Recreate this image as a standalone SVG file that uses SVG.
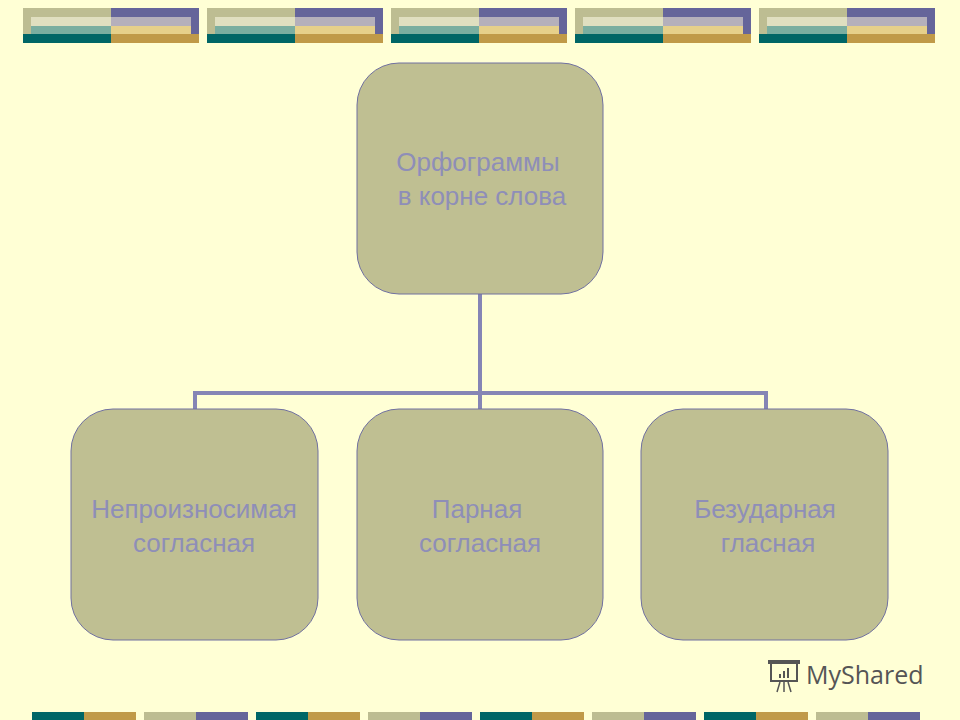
<svg xmlns="http://www.w3.org/2000/svg" width="960" height="720" viewBox="0 0 960 720">
<style>
.n{fill:#bfbf92;stroke:#7070a0;stroke-width:1}
.t{font-family:"Liberation Sans",Arial,sans-serif;font-size:26px;fill:#8e8eb8;text-anchor:middle}
.c{stroke:#8585b5;stroke-width:4;fill:none}
</style>
<defs>
<g id="ban">
<rect x="0" y="0" width="88" height="9" fill="#bdbd92"/>
<rect x="88" y="0" width="88" height="9" fill="#65659a"/>
<rect x="0" y="9" width="8" height="17" fill="#bdbd92"/>
<rect x="168" y="9" width="8" height="17" fill="#65659a"/>
<rect x="0" y="26" width="88" height="9" fill="#006666"/>
<rect x="88" y="26" width="88" height="9" fill="#c09a48"/>
<rect x="8" y="9" width="80" height="9" fill="#e0dfc0"/>
<rect x="88" y="9" width="80" height="9" fill="#b5b0bb"/>
<rect x="8" y="18" width="80" height="8" fill="#7aaea0"/>
<rect x="88" y="18" width="80" height="8" fill="#e6d08a"/>
</g>
</defs>
<rect width="960" height="720" fill="#ffffd5"/>
<use href="#ban" x="23" y="8"/>
<use href="#ban" x="207" y="8"/>
<use href="#ban" x="391" y="8"/>
<use href="#ban" x="575" y="8"/>
<use href="#ban" x="759" y="8"/>
<g>
<rect x="32" y="712" width="52" height="8" fill="#006666"/><rect x="84" y="712" width="52" height="8" fill="#c09a48"/>
<rect x="144" y="712" width="52" height="8" fill="#bdbd92"/><rect x="196" y="712" width="52" height="8" fill="#65659a"/>
<rect x="256" y="712" width="52" height="8" fill="#006666"/><rect x="308" y="712" width="52" height="8" fill="#c09a48"/>
<rect x="368" y="712" width="52" height="8" fill="#bdbd92"/><rect x="420" y="712" width="52" height="8" fill="#65659a"/>
<rect x="480" y="712" width="52" height="8" fill="#006666"/><rect x="532" y="712" width="52" height="8" fill="#c09a48"/>
<rect x="592" y="712" width="52" height="8" fill="#bdbd92"/><rect x="644" y="712" width="52" height="8" fill="#65659a"/>
<rect x="704" y="712" width="52" height="8" fill="#006666"/><rect x="756" y="712" width="52" height="8" fill="#c09a48"/>
<rect x="816" y="712" width="52" height="8" fill="#bdbd92"/><rect x="868" y="712" width="52" height="8" fill="#65659a"/>
</g>
<g id="connectors">
<path class="c" d="M480 294 V393 M195 409 V393 H766 V409 M480 393 V409"/>
</g>
<g id="root"><rect class="n" x="357" y="63" width="246" height="231" rx="42"/>
<text class="t" x="478" y="171">Орфограммы</text><text class="t" x="482" y="205">в корне слова</text></g>
<g id="n1"><rect class="n" x="71" y="409" width="247" height="231" rx="42"/>
<text class="t" x="194" y="518">Непроизносимая</text><text class="t" x="194" y="552">согласная</text></g>
<g id="n2"><rect class="n" x="357" y="409" width="246" height="231" rx="42"/>
<text class="t" x="477" y="518">Парная</text><text class="t" x="480" y="552">согласная</text></g>
<g id="n3"><rect class="n" x="641" y="409" width="247" height="231" rx="42"/>
<text class="t" x="765" y="518">Безударная</text><text class="t" x="768" y="552">гласная</text></g>
<g id="logo">
<rect x="771" y="663" width="26" height="18" fill="none" stroke="#555" stroke-width="2"/>
<rect x="768" y="660" width="32" height="4" fill="#555"/>
<rect x="779" y="674" width="2" height="4" fill="#555"/><rect x="783" y="671" width="2" height="7" fill="#555"/><rect x="787" y="668" width="2" height="10" fill="#555"/>
<path d="M780 682 L777 692 M784 682 V692 M788 682 L791 692" stroke="#555" stroke-width="1.5"/>
<text x="806" y="684" font-family="'Open Sans','Liberation Sans',sans-serif" font-size="25" fill="#555">MyShared</text>
</g>
</svg>
